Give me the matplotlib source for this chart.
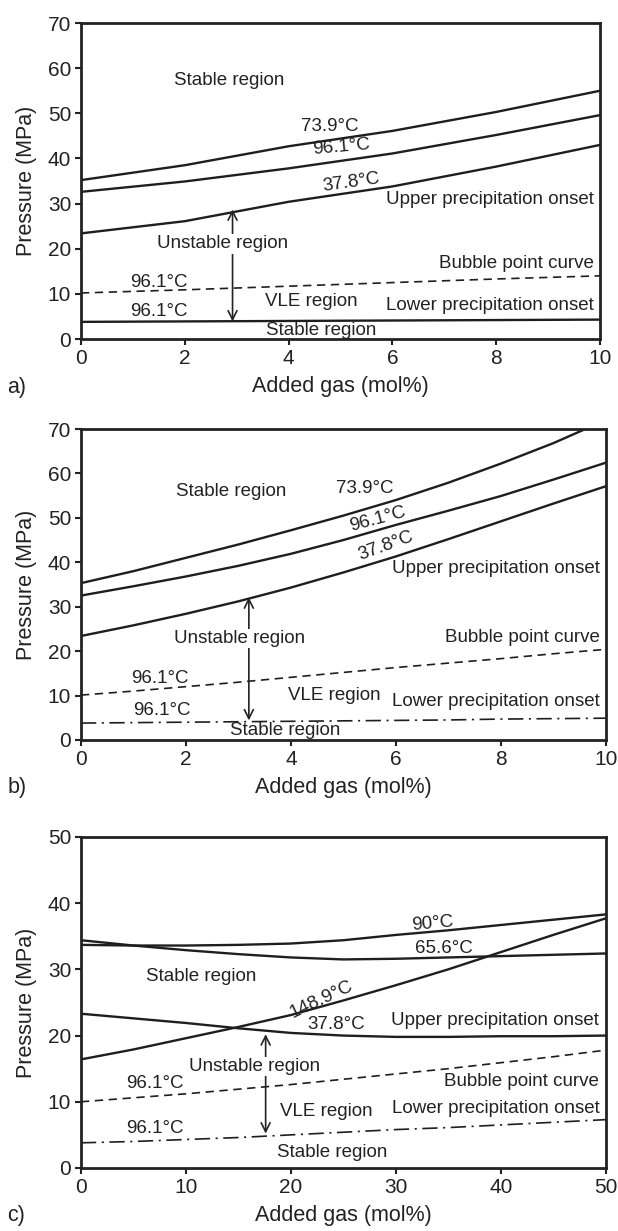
import matplotlib
matplotlib.use("Agg")
import matplotlib.pyplot as plt

plt.rcParams['font.family'] = ['Liberation Sans', 'DejaVu Sans']
plt.rcParams['lines.scale_dashes'] = False

# panel a) data, added gas 0-10 mol%
a_x = [0, 2, 4, 6, 8, 10]
a_t739 = [35.2, 38.5, 42.7, 46.1, 50.3, 55.0]
a_t961 = [32.6, 34.9, 37.8, 41.1, 45.2, 49.6]
a_t378 = [23.4, 26.1, 30.4, 33.8, 38.2, 43.0]
a_bubble = [10.2, 10.9, 11.7, 12.5, 13.3, 14.0]
a_lower = [3.8, 3.9, 4.0, 4.1, 4.2, 4.3]

# panel b)
b_x = [0, 1, 2, 3, 4, 5, 6, 7, 8, 9, 10]
b_t739 = [35.3, 38.0, 41.0, 44.0, 47.2, 50.5, 54.0, 57.9, 62.2, 66.8, 72.0]
b_t961 = [32.5, 34.6, 36.8, 39.2, 41.9, 45.0, 48.4, 51.6, 54.9, 58.6, 62.4]
b_t378 = [23.4, 25.8, 28.4, 31.2, 34.3, 37.7, 41.3, 45.2, 49.2, 53.2, 57.1]
b_bubble = [10.1, 11.0, 12.0, 13.0, 14.1, 15.2, 16.3, 17.3, 18.3, 19.4, 20.4]
b_lower = [3.8, 3.9, 4.0, 4.1, 4.2, 4.3, 4.4, 4.5, 4.7, 4.8, 4.9]

# panel c), added gas 0-50 mol%
c_x = [0, 5, 10, 15, 20, 25, 30, 35, 40, 45, 50]
c_t90 = [33.7, 33.6, 33.6, 33.7, 33.9, 34.4, 35.2, 35.9, 36.7, 37.5, 38.3]
c_t656 = [34.4, 33.6, 32.9, 32.3, 31.8, 31.5, 31.6, 31.8, 32.0, 32.2, 32.4]
c_t1489 = [16.4, 17.9, 19.6, 21.3, 23.1, 25.3, 27.6, 30.0, 32.6, 35.2, 37.7]
c_t378 = [23.3, 22.6, 21.9, 21.1, 20.4, 20.0, 19.8, 19.8, 19.9, 19.9, 20.0]
c_bubble = [10.0, 10.6, 11.2, 11.9, 12.6, 13.4, 14.2, 15.0, 15.9, 16.8, 17.8]
c_lower = [3.8, 4.0, 4.3, 4.6, 5.0, 5.4, 5.8, 6.1, 6.5, 6.9, 7.3]

DASH = (0, (6, 4))
DASHDOT = (0, (11, 4, 1.5, 4))
LW = 1.7
FS = 13.5

fig = plt.figure(figsize=(6.18, 12.31), dpi=100)


def setup(ax, xmax, xstep, ymax, panel, label_y):
    ax.set_xlim(0, xmax)
    ax.set_ylim(0, ymax)
    ax.set_xticks(range(0, xmax + 1, xstep))
    ax.set_yticks(range(0, ymax + 1, 10))
    for s in ax.spines.values():
        s.set_linewidth(2)
        s.set_color('#222222')
    ax.tick_params(direction='out', length=4, width=1.5, labelsize=15,
                   color='#222222', labelcolor='#222222', pad=3)
    ax.set_xlabel('Added gas (mol%)', fontsize=15.5, color='#222222', labelpad=6)
    ax.set_ylabel('Pressure (MPa)', fontsize=15.5, color='#222222', labelpad=8)
    fig.text(0.012, label_y, panel, fontsize=15.5, color='#222222', va='center')


def txt(ax, x, y, s, ha='center', rot=0, bg=False):
    kw = {}
    if bg:
        kw['bbox'] = dict(facecolor='white', edgecolor='none', pad=1)
    ax.text(x, y, s, fontsize=FS, ha=ha, va='center', rotation=rot,
            rotation_mode='anchor', color='#222222', zorder=5, **kw)


def arrow(ax, x, y0, y1):
    ax.annotate('', xy=(x, y1), xytext=(x, y0),
                arrowprops=dict(arrowstyle='<->', lw=1.2, color='#222222',
                                mutation_scale=16, shrinkA=0, shrinkB=0),
                zorder=3)


k = '#1e1e1e'

# ---- a)
ax = fig.add_axes([0.131, 0.7246, 0.840, 0.2567])
ax.plot(a_x, a_t739, color=k, lw=LW)
ax.plot(a_x, a_t961, color=k, lw=LW)
ax.plot(a_x, a_t378, color=k, lw=LW)
ax.plot(a_x, a_bubble, color=k, lw=1.2, linestyle=DASH)
ax.plot(a_x, a_lower, color=k, lw=LW)
arrow(ax, 2.92, 3.9, 28.7)
setup(ax, 10, 2, 70, 'a)', 1 - 388 / 1231)
txt(ax, 2.86, 57.3, 'Stable region')
txt(ax, 4.79, 47.0, '73.9\u00b0C')
txt(ax, 5.02, 42.6, '96.1\u00b0C', rot=5)
txt(ax, 5.2, 34.6, '37.8\u00b0C', rot=8)
txt(ax, 9.88, 30.8, 'Upper precipitation onset', ha='right')
txt(ax, 2.72, 21.1, 'Unstable region', bg=True)
txt(ax, 9.88, 16.8, 'Bubble point curve', ha='right')
txt(ax, 1.5, 12.5, '96.1\u00b0C')
txt(ax, 4.44, 8.3, 'VLE region')
txt(ax, 9.88, 7.4, 'Lower precipitation onset', ha='right')
txt(ax, 1.5, 6.1, '96.1\u00b0C')
txt(ax, 4.63, 1.8, 'Stable region')

# ---- b)
ax = fig.add_axes([0.131, 0.3989, 0.849, 0.2526])
ax.plot(b_x, b_t739, color=k, lw=LW)
ax.plot(b_x, b_t961, color=k, lw=LW)
ax.plot(b_x, b_t378, color=k, lw=LW)
ax.plot(b_x, b_bubble, color=k, lw=1.2, linestyle=DASH)
ax.plot(b_x, b_lower, color=k, lw=1.2, linestyle=DASHDOT)
arrow(ax, 3.2, 4.4, 32.1)
setup(ax, 10, 2, 70, 'b)', 1 - 788 / 1231)
txt(ax, 2.87, 56.0, 'Stable region')
txt(ax, 5.4, 56.7, '73.9\u00b0C')
txt(ax, 5.66, 49.6, '96.1\u00b0C', rot=15)
txt(ax, 5.81, 43.6, '37.8\u00b0C', rot=20)
txt(ax, 9.89, 38.7, 'Upper precipitation onset', ha='right')
txt(ax, 3.02, 22.8, 'Unstable region', bg=True)
txt(ax, 9.89, 23.1, 'Bubble point curve', ha='right')
txt(ax, 1.5, 13.9, '96.1\u00b0C')
txt(ax, 4.83, 9.9, 'VLE region')
txt(ax, 9.89, 8.6, 'Lower precipitation onset', ha='right')
txt(ax, 1.55, 6.6, '96.1\u00b0C')
txt(ax, 3.89, 2.1, 'Stable region')

# ---- c)
ax = fig.add_axes([0.131, 0.0512, 0.849, 0.2689])
ax.plot(c_x, c_t90, color=k, lw=LW)
ax.plot(c_x, c_t656, color=k, lw=LW)
ax.plot(c_x, c_t1489, color=k, lw=LW)
ax.plot(c_x, c_t378, color=k, lw=LW)
ax.plot(c_x, c_bubble, color=k, lw=1.2, linestyle=DASH)
ax.plot(c_x, c_lower, color=k, lw=1.2, linestyle=DASHDOT)
arrow(ax, 17.6, 5.2, 20.2)
setup(ax, 50, 10, 50, 'c)', 1 - 1215 / 1231)
txt(ax, 33.5, 36.9, '90\u00b0C', rot=5)
txt(ax, 34.6, 33.2, '65.6\u00b0C')
txt(ax, 11.5, 28.9, 'Stable region')
txt(ax, 22.9, 25.5, '148.9\u00b0C', rot=25)
txt(ax, 24.3, 21.6, '37.8\u00b0C')
txt(ax, 49.4, 22.3, 'Upper precipitation onset', ha='right')
txt(ax, 16.5, 15.3, 'Unstable region', bg=True)
txt(ax, 7.0, 12.8, '96.1\u00b0C')
txt(ax, 49.4, 13.1, 'Bubble point curve', ha='right')
txt(ax, 23.4, 8.5, 'VLE region')
txt(ax, 49.4, 9.0, 'Lower precipitation onset', ha='right')
txt(ax, 7.0, 6.0, '96.1\u00b0C')
txt(ax, 23.9, 2.3, 'Stable region')

fig.savefig('out.png', dpi=100)
